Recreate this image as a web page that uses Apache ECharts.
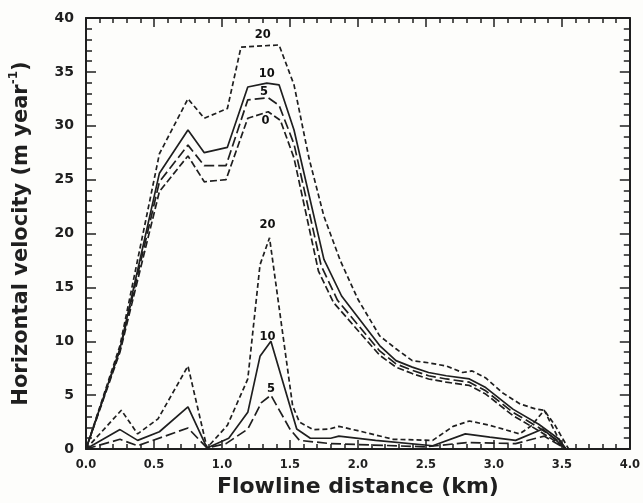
<!DOCTYPE html>
<html>
<head>
<meta charset="utf-8">
<script src="https://cdn.jsdelivr.net/npm/echarts@6/dist/echarts.min.js"></script>
<style>
  html, body { margin: 0; padding: 0; background: #fdfdfb; }
  #chart { width: 643px; height: 503px; }
</style>
</head>
<body>
<div id="chart"></div>
<script>
// upper group: velocity at the surface, curves for 0, 5, 10 and 20
var upper0 = [[0, 0], [0.25, 9.0], [0.54, 23.9], [0.75, 27.2], [0.87, 24.8], [1.03, 25.0], [1.19, 30.7], [1.34, 31.3], [1.43, 30.5], [1.53, 27.0], [1.71, 16.5], [1.82, 13.6], [2.16, 8.7], [2.28, 7.6], [2.40, 7.0], [2.52, 6.5], [2.65, 6.2], [2.82, 5.9], [2.94, 5.1], [3.14, 3.1], [3.33, 1.7], [3.48, 0.5], [3.53, 0]]
var upper5 = [[0, 0], [0.25, 9.2], [0.54, 24.8], [0.75, 28.2], [0.87, 26.3], [1.03, 26.3], [1.19, 32.4], [1.34, 32.6], [1.42, 31.9], [1.53, 28.3], [1.73, 17.0], [1.85, 13.8], [2.16, 9.1], [2.28, 7.9], [2.40, 7.3], [2.52, 6.8], [2.65, 6.5], [2.82, 6.2], [2.94, 5.4], [3.14, 3.4], [3.33, 2.0], [3.48, 0.7], [3.53, 0]]
var upper10 = [[0, 0], [0.25, 9.3], [0.54, 25.6], [0.75, 29.6], [0.87, 27.5], [1.04, 28.0], [1.19, 33.6], [1.33, 33.95], [1.42, 33.8], [1.53, 29.6], [1.75, 17.6], [1.88, 14.2], [2.16, 9.6], [2.28, 8.2], [2.40, 7.6], [2.52, 7.1], [2.65, 6.8], [2.82, 6.5], [2.94, 5.7], [3.14, 3.7], [3.33, 2.3], [3.48, 0.9], [3.53, 0]]
var upper20 = [[0, 0], [0.25, 9.6], [0.54, 27.4], [0.75, 32.5], [0.87, 30.7], [1.04, 31.6], [1.14, 37.3], [1.42, 37.5], [1.53, 33.8], [1.64, 27.0], [1.75, 21.6], [1.87, 17.5], [2.0, 13.9], [2.16, 10.5], [2.28, 9.3], [2.40, 8.2], [2.52, 8.0], [2.65, 7.7], [2.77, 7.1], [2.84, 7.25], [2.94, 6.6], [3.06, 5.25], [3.19, 4.2], [3.31, 3.7], [3.37, 3.6], [3.45, 2.2], [3.55, 0]]

// lower group: velocity at the bed, curves for 5, 10 and 20
var lower5 = [[0, 0], [0.25, 0.9], [0.38, 0.3], [0.75, 1.95], [0.89, 0.1], [1.03, 0.5], [1.19, 1.85], [1.29, 4.3], [1.36, 5.0], [1.5, 1.85], [1.57, 0.8], [1.8, 0.5], [2.5, 0.2], [2.8, 0.6], [3.16, 0.5], [3.37, 1.2], [3.53, 0]]
var lower10 = [[0, 0], [0.25, 1.8], [0.38, 0.8], [0.54, 1.6], [0.75, 3.9], [0.89, 0.1], [1.05, 1.0], [1.19, 3.4], [1.28, 8.6], [1.36, 10.0], [1.55, 1.85], [1.65, 1.0], [1.8, 1.0], [1.86, 1.2], [2.13, 0.8], [2.55, 0.3], [2.79, 1.4], [2.97, 1.1], [3.16, 0.8], [3.36, 1.85], [3.45, 0.9], [3.53, 0]]
var lower20 = [[0, 0], [0.26, 3.6], [0.38, 1.4], [0.53, 2.8], [0.75, 7.7], [0.89, 0.1], [1.04, 2.2], [1.19, 6.5], [1.28, 17.1], [1.35, 19.6], [1.52, 4.0], [1.57, 2.5], [1.67, 1.8], [1.79, 1.85], [1.86, 2.1], [2.0, 1.7], [2.26, 0.9], [2.55, 0.8], [2.7, 2.1], [2.82, 2.6], [2.97, 2.2], [3.19, 1.4], [3.28, 2.2], [3.37, 3.6], [3.49, 0.6], [3.53, 0]]

// curve labels: [x, y, text]
var curveLabels = [[1.30, 38.4, '20'], [1.33, 34.8, '10'], [1.31, 33.1, '5'], [1.32, 30.4, '0'],
  [1.335, 20.8, '20'], [1.335, 10.4, '10'], [1.36, 5.6, '5']]

var chart = echarts.init(document.getElementById('chart'))

var ink = '#1f1f1f'
var shortDash = [5, 3]
var longDash = [10, 4]
var midDash = [7, 3]

function curve(data, dash) {
  return {
    type: 'line',
    data: data,
    symbol: 'none',
    animation: false,
    lineStyle: { color: ink, width: 1.7, type: dash }
  }
}

var axisFont = '"DejaVu Sans", Verdana, sans-serif'

// the frame: all four sides carry inward ticks
function frameAxis(extra) {
  return Object.assign({
    type: 'value',
    axisLine: { onZero: false, lineStyle: { color: ink, width: 2 } },
    axisTick: { inside: true, length: 9, lineStyle: { color: ink, width: 1.5 } },
    minorTick: { show: true, splitNumber: 5, length: 5, lineStyle: { color: ink, width: 1.5 } },
    axisLabel: { show: false },
    splitLine: { show: false }
  }, extra)
}

var option = {
  backgroundColor: '#fdfdfb',
  grid: { left: 86, right: 12, top: 18, bottom: 53 },
  xAxis: [
    frameAxis({
      min: 0, max: 4, interval: 0.5,
      name: 'Flowline distance (km)', nameLocation: 'middle', nameGap: 27,
      nameTextStyle: { fontFamily: axisFont, fontWeight: 'bold', fontSize: 22, color: ink },
      axisLabel: { show: true, fontFamily: axisFont, fontWeight: 'bold', fontSize: 11.5, color: ink, margin: 10,
        formatter: function (v) { return v.toFixed(1) } }
    }),
    frameAxis({ position: 'top', min: 0, max: 4, interval: 0.5 })
  ],
  yAxis: [
    frameAxis({
      min: 0, max: 40, interval: 5,
      name: 'Horizontal velocity (m year{sup|-1})', nameLocation: 'middle', nameGap: 50,
      nameTextStyle: {
        fontFamily: axisFont, fontWeight: 'bold', fontSize: 21, color: ink,
        rich: { sup: { fontFamily: axisFont, fontWeight: 'bold', fontSize: 12, color: ink, verticalAlign: 'top', lineHeight: 28 } }
      },
      axisTick: { inside: true, length: 10, lineStyle: { color: ink, width: 1.5 } },
      minorTick: { show: true, splitNumber: 5, length: 6, lineStyle: { color: ink, width: 1.5 } },
      axisLabel: { show: true, fontFamily: axisFont, fontWeight: 'bold', fontSize: 14, color: ink, margin: 12 }
    }),
    frameAxis({
      position: 'right', min: 0, max: 40, interval: 5,
      axisTick: { inside: true, length: 10, lineStyle: { color: ink, width: 1.5 } },
      minorTick: { show: true, splitNumber: 5, length: 6, lineStyle: { color: ink, width: 1.5 } }
    })
  ],
  series: [
    curve(upper0, midDash),
    curve(upper5, longDash),
    curve(upper10, 'solid'),
    curve(upper20, shortDash),
    curve(lower5, longDash),
    curve(lower10, 'solid'),
    curve(lower20, shortDash),
    {
      type: 'scatter',
      symbolSize: 0,
      animation: false,
      silent: true,
      data: curveLabels,
      label: {
        show: true, position: 'inside',
        formatter: function (p) { return p.value[2] },
        fontFamily: axisFont, fontWeight: 'bold', fontSize: 11.5, color: '#111',
        textBorderWidth: 0, opacity: 1
      }
    }
  ]
}

chart.setOption(option)
</script>
</body>
</html>
